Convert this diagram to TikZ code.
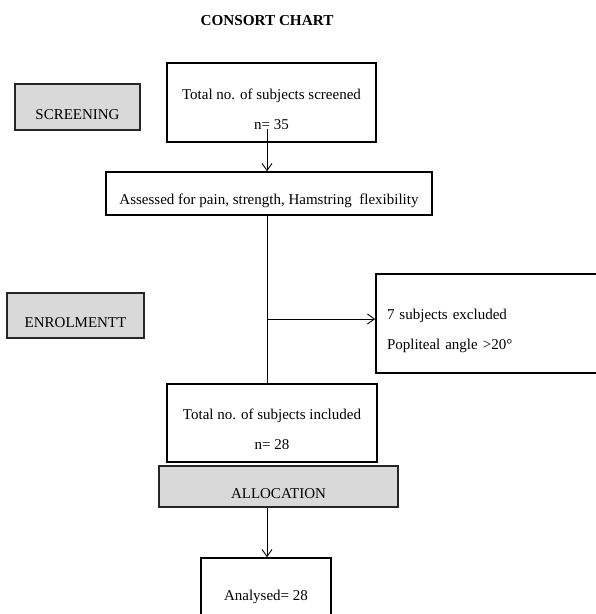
\documentclass[tikz,border=0pt]{standalone}
\usepackage{fontspec}
\setmainfont{Liberation Serif}
\usetikzlibrary{arrows.meta}

\begin{document}
\begin{tikzpicture}[x=1pt, y=-1pt,
    font=\fontsize{15}{30}\selectfont,
    vak/.style={draw, line width=1.6pt, rectangle, align=center, inner sep=0pt},
    grijsvak/.style={draw=black!85, line width=2.2pt, fill=gray!30, rectangle, align=center, inner sep=0pt},
    pijl/.style={line width=0.9pt, -{Straight Barb[length=7pt,width=10pt]}},
    lijn/.style={line width=0.9pt}]
    % Paginagrootte vastleggen
    \clip (0,0) rectangle (596,614);

    % Titel
    \node[font=\fontsize{15.2}{17}\selectfont\bfseries] (titel) at (267,21) {CONSORT CHART};

    % Grijze fasevakken links en onder
    \node[grijsvak, minimum width=125pt, minimum height=46pt, text height=30pt, text depth=6pt] (screening) at (77.5,107) {SCREENING};
    \node[grijsvak, minimum width=137pt, minimum height=45pt, text height=30pt, text depth=7pt] (enrolment) at (75.5,315.5) {ENROLMENTT};
    \node[grijsvak, minimum width=239pt, minimum height=41pt, text height=25pt, text depth=2pt] (allocatie) at (278.5,486.5) {ALLOCATION};

    % Witte vakken van de stroom
    \node[vak, minimum width=209pt, minimum height=79pt, text height=55pt, text depth=2pt] (gescreend) at (271.5,102.5) {Total no. of subjects screened\\n= 35};
    \node[vak, minimum width=326pt, minimum height=43pt, text height=25pt, text depth=4pt] (beoordeeld) at (269,193.5) {Assessed for pain, strength, Hamstring~ flexibility};
    \node[vak, minimum width=244pt, minimum height=99pt, text width=222pt, align=left, inner xsep=11pt, text height=10pt, text depth=19pt] (uitgesloten) at (498,323.5) {7 subjects excluded\\Popliteal angle >20°};
    \node[vak, minimum width=210pt, minimum height=78pt, text height=54pt, text depth=2pt] (geincludeerd) at (272,423) {Total no. of subjects included\\n= 28};
    \node[vak, minimum width=130pt, minimum height=85pt, text height=10pt, text depth=11pt] (geanalyseerd) at (266,600.5) {Analysed= 28};

    % Verbindingen langs de middenlijn
    \coordinate (tak) at (267,319);
    \draw[pijl] ([yshift=14pt]gescreend.south -| tak) -- (beoordeeld.north -| tak);
    \draw[lijn] (beoordeeld.south -| tak) -- (geincludeerd.north -| tak);
    \draw[pijl] (tak) -- (tak -| uitgesloten.west);
    \draw[pijl] (allocatie.south -| tak) -- (geanalyseerd.north -| tak);
\end{tikzpicture}
\end{document}
